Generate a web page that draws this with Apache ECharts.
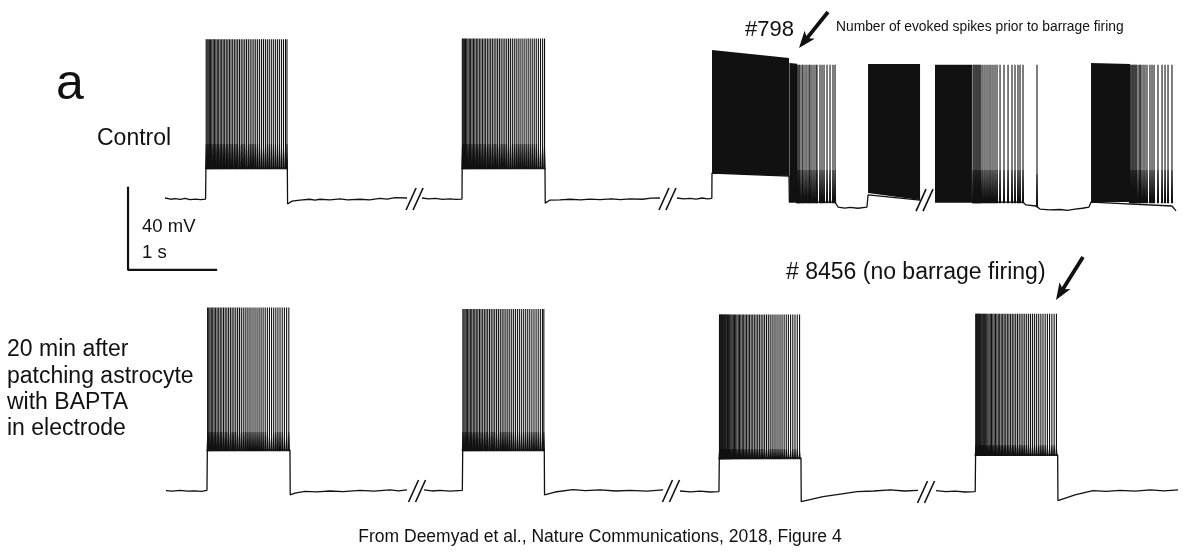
<!DOCTYPE html>
<html>
<head>
<meta charset="utf-8">
<script src="https://cdn.jsdelivr.net/npm/echarts@6/dist/echarts.min.js"></script>
<style>html,body{margin:0;padding:0;background:#fff}#c{width:1200px;height:557px}</style>
</head>
<body>
<div id="c"></div>
<script>
// ---------- DATA (time in s of displayed trace, membrane potential in mV) ----------
// Control trace: sub-threshold trace segments (between break marks)
const ctrlSegA = [[1.875,-65.0],[1.940,-65.6],[1.989,-65.3],[2.050,-65.7],[2.102,-65.2],[2.160,-65.8],[2.216,-65.5],[2.280,-65.8],[2.336,-65.5],[2.340,-50.4],[3.265,-50.4],[3.268,-67.9],[3.318,-66.5],[3.409,-66.0],[3.520,-65.6],[3.580,-66.0],[3.636,-65.6],[3.750,-65.9],[3.864,-65.4],[3.950,-65.9],[4.091,-65.6],[4.200,-65.9],[4.318,-65.2],[4.400,-65.5],[4.489,-64.8],[4.625,-65.0]];
const ctrlSegB = [[4.795,-65.0],[4.870,-65.4],[4.943,-65.2],[5.030,-65.7],[5.114,-65.4],[5.180,-65.7],[5.250,-65.5],[5.252,-50.4],[6.193,-50.4],[6.196,-67.5],[6.250,-66.0],[6.360,-65.9],[6.477,-65.6],[6.600,-65.9],[6.700,-65.5],[6.818,-65.8],[6.950,-65.4],[7.050,-65.8],[7.159,-65.4],[7.300,-65.6],[7.400,-65.1],[7.500,-65.0]];
const ctrlSegC = [[7.693,-65.0],[7.770,-65.4],[7.840,-65.2],[7.910,-65.5],[7.980,-65.0],[8.040,-65.4],[8.089,-65.2],[8.091,-52.8],[8.966,-54.3],[8.970,-67.0],[9.489,-67.0],[9.523,-69.4],[9.600,-69.9],[9.659,-69.6],[9.750,-70.0],[9.852,-69.4],[9.864,-63.5],[10.455,-66.0]];
const ctrlSegD = [[10.625,-67.0],[11.625,-67.0],[11.659,-68.4],[11.773,-68.9],[11.818,-70.4],[11.930,-70.8],[12.045,-70.6],[12.130,-71.0],[12.216,-70.4],[12.300,-70.0],[12.375,-69.4],[12.398,-67.0],[13.318,-68.9],[13.364,-71.3]];
// Control evoked bursts
const ctrlBurstOnset = [2.340, 5.252];
const ctrlBurstTrough = [-50.4, -50.4];
const ctrlBurstPeak = [12.5, 12.8];
const ctrlB1SpikesMs = [3,14,26,39,53,67,82,97,113,129,145,162,179,196,213,231,249,267,285,304,323,342,361,381,401,421,441,461,482,503,524,545,566,588,610,632,654,676,698,720,743,766,789,812,835,858,881,904,921];
const ctrlB2SpikesMs = [2,13,25,38,52,66,81,96,112,128,144,161,178,195,213,231,249,267,286,305,324,343,363,383,403,423,443,464,485,506,527,548,570,592,614,636,658,681,704,727,750,773,796,819,842,866,890,914,936];
// Control barrage: solid firing blocks [tStart, tEnd, topStart, topEnd, bottomStart, bottomEnd]
const ctrlBarrageBlocks = [
  [8.091, 8.966, 7.2, 3.3, -52.8, -54.3],
  [8.970, 9.057, 0.9, 0.5, -67.0, -67.0],
  [9.864, 10.455, 0.4, 0.4, -62.5, -66.0],
  [10.625, 11.045, 0.0, 0.0, -67.0, -67.0],
  [12.398, 12.841, 0.9, 0.4, -67.0, -67.0]
];
// Control barrage: individually visible spikes [t, trough, peak]
const ctrlBarrageSpikes = [
  [9.057,-67,0],[9.068,-67,0],[9.080,-67,0],[9.091,-67,0],[9.114,-67,0],[9.125,-67,0],[9.148,-67,0],[9.170,-67,0],[9.193,-67,0],[9.205,-67,0],[9.227,-67,0],[9.250,-67,0],[9.273,-67,0],[9.284,-67,0],[9.318,-67,0],[9.341,-67,0],[9.364,-67,0],[9.398,-67,0],[9.432,-67,0],[9.466,-67,0],[9.489,-67,0],
  [11.057,-67,0],[11.068,-67,0],[11.080,-67,0],[11.091,-67,0],[11.102,-67,0],[11.114,-67,0],[11.125,-67,0],[11.136,-67,0],[11.148,-67,0],[11.170,-67,0],[11.193,-67,0],[11.216,-67,0],[11.239,-67,0],[11.261,-67,0],[11.284,-67,0],[11.307,-67,0],[11.330,-67,0],[11.364,-67,0],[11.409,-67,0],[11.455,-67,0],[11.500,-67,0],[11.534,-67,0],[11.568,-67,0],[11.591,-67,0],[11.625,-67,0],
  [11.784,-68.9,0],
  [12.841,-67,0],[12.852,-67,0],[12.864,-67,0],[12.875,-67,0],[12.886,-67,0],[12.898,-67,0],[12.909,-67,0],[12.920,-67,0],[12.943,-67,0],[12.955,-67,0],[12.966,-67,0],[12.989,-67,0],[13.011,-67,0],[13.034,-67,0],[13.068,-67,0],[13.091,-67,0],[13.114,-67,0],[13.159,-67,0],[13.205,-67,0],[13.239,-67,0],[13.273,-67,0],[13.318,-67,0]
];
const ctrlBreaks = [[4.711,-65.5],[7.585,-65.5],[10.506,-66.0]];

// BAPTA trace
const baptaSegA = [[1.886,-65.3],[1.960,-65.6],[2.045,-65.2],[2.130,-65.6],[2.216,-65.4],[2.290,-65.7],[2.352,-65.2],[2.356,-45.5],[3.295,-45.5],[3.298,-67.4],[3.352,-66.5],[3.466,-65.7],[3.600,-65.9],[3.750,-65.5],[3.900,-65.8],[4.091,-65.2],[4.250,-65.6],[4.432,-65.0],[4.530,-65.4],[4.625,-65.0]];
const baptaSegB = [[4.818,-65.0],[4.910,-65.5],[5.000,-65.2],[5.120,-65.6],[5.254,-65.2],[5.258,-45.5],[6.185,-45.5],[6.188,-67.4],[6.307,-66.0],[6.511,-64.8],[6.650,-65.3],[6.818,-65.0],[7.000,-65.5],[7.159,-65.2],[7.350,-65.6],[7.534,-65.0]];
const baptaSegC = [[7.727,-65.5],[7.850,-65.9],[7.955,-65.6],[8.070,-66.0],[8.170,-65.8],[8.174,-49.4],[9.102,-49.4],[9.105,-70.7],[9.352,-68.3],[9.550,-67.0],[9.739,-65.8],[9.930,-65.5],[10.114,-65.0],[10.280,-65.5],[10.432,-65.2]];
const baptaSegD = [[10.636,-65.3],[10.750,-65.8],[10.852,-65.6],[10.970,-66.0],[11.082,-65.8],[11.086,-47.9],[12.019,-47.9],[12.022,-70.2],[12.216,-67.4],[12.420,-65.3],[12.570,-65.7],[12.727,-65.2],[12.900,-65.6],[13.068,-65.0],[13.230,-65.4],[13.386,-65.0]];
const baptaBurstOnset = [2.356, 5.258, 8.174, 11.086];
const baptaBurstTrough = [-45.5, -45.5, -49.4, -47.9];
const baptaBurstPeak = [24.0, 23.3, 20.6, 21.0];
const baptaB1SpikesMs = [3,16,30,45,61,77,94,111,129,147,165,184,203,222,242,262,282,302,323,344,365,386,408,430,452,474,496,519,542,565,588,611,634,658,682,706,730,754,778,802,826,851,876,901,926];
const baptaB2SpikesMs = [2,14,27,41,56,71,87,103,120,137,154,172,190,208,227,246,265,284,304,324,344,364,385,406,427,448,469,491,513,535,557,579,601,624,647,670,693,716,739,762,786,810,834,858,882,906,922];
const baptaB3SpikesMs = [2,9,16,23,30,37,44,52,60,68,76,85,94,103,113,123,134,146,159,172,186,200,215,230,245,261,277,293,310,327,344,362,380,398,417,436,455,475,495,515,536,557,578,600,622,644,667,690,713,737,761,785,810,835,860,886,912];
const baptaB4SpikesMs = [2,9,16,23,30,38,46,54,63,72,82,92,103,115,127,140,153,167,181,196,211,226,242,258,274,291,308,325,343,361,379,398,417,436,456,476,496,517,538,559,581,603,625,648,671,694,718,742,766,791,816,841,867,893,919];
const baptaBreaks = [[4.739,-65.5],[7.625,-65.5],[10.523,-66.0]];

// Scale bar: origin [t, mV], lengths
const scaleBarOrigin = [1.455, -100.1];
const scaleBarMv = 40;
const scaleBarS = 1;

// ---------- CHART ----------
const INK = '#111111';
function spikeData(onset, trough, peak, ms) { return ms.map(m => [onset + m / 1000, trough, peak]); }
function spikeRender(bandPx) {
  return function (params, api) {
    const a = api.coord([api.value(0), api.value(1)]);
    const b = api.coord([api.value(0), api.value(2)]);
    return { type: 'group', children: [
      { type: 'line', shape: { x1: a[0], y1: a[1], x2: b[0], y2: b[1] }, style: { stroke: INK, lineWidth: 1.1 } },
      { type: 'polygon', shape: { points: [[a[0] - 1.1, a[1] + 1.2], [a[0] - 0.35, a[1] - bandPx], [a[0] + 0.35, a[1] - bandPx], [a[0] + 1.1, a[1] + 1.2]] }, style: { fill: INK } }
    ] };
  };
}
function blockRender(params, api) {
  const p1 = api.coord([api.value(0), api.value(2)]);
  const p2 = api.coord([api.value(1), api.value(3)]);
  const p3 = api.coord([api.value(1), api.value(5)]);
  const p4 = api.coord([api.value(0), api.value(4)]);
  return { type: 'polygon', shape: { points: [p1, p2, p3, p4] }, style: { fill: INK } };
}
function breakRender(params, api) {
  const c = api.coord([api.value(0), api.value(1)]);
  const s = { stroke: INK, lineWidth: 1.6 };
  return { type: 'group', children: [
    { type: 'line', shape: { x1: c[0] - 8.5, y1: c[1] + 11, x2: c[0] + 1.5, y2: c[1] - 11 }, style: s },
    { type: 'line', shape: { x1: c[0] - 1.5, y1: c[1] + 11, x2: c[0] + 8.5, y2: c[1] - 11 }, style: s }
  ] };
}
function lineSeries(data, gi) {
  return { type: 'line', data: data, xAxisIndex: gi, yAxisIndex: gi, showSymbol: false, symbol: 'none',
    lineStyle: { color: INK, width: 1.3 }, animation: false, silent: true, z: 2 };
}
function customSeries(data, gi, render, z) {
  return { type: 'custom', coordinateSystem: 'cartesian2d', xAxisIndex: gi, yAxisIndex: gi, data: data,
    renderItem: render, animation: false, silent: true, z: z, clip: false };
}
function arrowPts(x1, y1, x2, y2, w, L, H) {
  const dx = x2 - x1, dy = y2 - y1, len = Math.hypot(dx, dy);
  const ux = dx / len, uy = dy / len, nx = -uy, ny = ux;
  const bx = x2 - ux * L, by = y2 - uy * L;
  const cx = x2 - ux * (L - 3), cy = y2 - uy * (L - 3);
  return [[x1 + nx * w / 2, y1 + ny * w / 2], [cx + nx * w / 2, cy + ny * w / 2], [bx + nx * H / 2, by + ny * H / 2], [x2, y2],
          [bx - nx * H / 2, by - ny * H / 2], [cx - nx * w / 2, cy - ny * w / 2], [x1 - nx * w / 2, y1 - ny * w / 2]];
}

const series = [];
[ctrlSegA, ctrlSegB, ctrlSegC, ctrlSegD].forEach(s => series.push(lineSeries(s, 0)));
[baptaSegA, baptaSegB, baptaSegC, baptaSegD].forEach(s => series.push(lineSeries(s, 1)));
series.push(customSeries(spikeData(ctrlBurstOnset[0], ctrlBurstTrough[0], ctrlBurstPeak[0], ctrlB1SpikesMs), 0, spikeRender(24), 3));
series.push(customSeries(spikeData(ctrlBurstOnset[1], ctrlBurstTrough[1], ctrlBurstPeak[1], ctrlB2SpikesMs), 0, spikeRender(24), 3));
series.push(customSeries(ctrlBarrageBlocks, 0, blockRender, 3));
series.push(customSeries(ctrlBarrageSpikes, 0, spikeRender(32), 3));
const baptaSp = [baptaB1SpikesMs, baptaB2SpikesMs, baptaB3SpikesMs, baptaB4SpikesMs];
const baptaBand = [18, 18, 9, 10];
baptaSp.forEach((ms, i) => series.push(customSeries(spikeData(baptaBurstOnset[i], baptaBurstTrough[i], baptaBurstPeak[i], ms), 1, spikeRender(baptaBand[i]), 3)));
series.push(customSeries(ctrlBreaks, 0, breakRender, 4));
series.push(customSeries(baptaBreaks, 1, breakRender, 4));
series.push({ type: 'line', xAxisIndex: 0, yAxisIndex: 0, showSymbol: false, symbol: 'none', animation: false, silent: true,
  data: [[scaleBarOrigin[0], scaleBarOrigin[1] + scaleBarMv], scaleBarOrigin, [scaleBarOrigin[0] + scaleBarS, scaleBarOrigin[1]]],
  lineStyle: { color: INK, width: 2.2, cap: 'square' }, z: 2 });

const FONT = 'Liberation Sans, Arial, sans-serif';
function txt(x, y, text, size, extra) {
  return Object.assign({ type: 'text', x: x, y: y, silent: true,
    style: Object.assign({ text: text, fontSize: size, fontFamily: FONT, fill: INK, align: 'left', verticalAlign: 'middle' }, extra || {}) });
}
const graphics = [
  txt(56, 85, 'a', 50),
  txt(97, 139, 'Control', 23),
  { type: 'text', x: 7, y: 337, silent: true, style: { text: '20 min after\npatching astrocyte\nwith BAPTA\nin electrode', fontSize: 23, lineHeight: 26.3, fontFamily: FONT, fill: INK, align: 'left', verticalAlign: 'top' } },
  txt(142, 226.5, '40 mV', 18.5),
  txt(142, 252.5, '1 s', 18.5),
  txt(745, 29.5, '#798', 22),
  txt(836, 27.5, 'Number of evoked spikes prior to barrage firing', 13.8),
  txt(786, 272.5, '# 8456 (no barrage firing)', 23),
  txt(600, 537, 'From Deemyad et al., Nature Communications, 2018, Figure 4', 17.5, { align: 'center' }),
  { type: 'polygon', silent: true, shape: { points: arrowPts(828, 12, 799, 48, 3.8, 17, 13) }, style: { fill: INK } },
  { type: 'polygon', silent: true, shape: { points: arrowPts(1083, 257, 1056, 300, 3.8, 17, 13) }, style: { fill: INK } }
];

const chart = echarts.init(document.getElementById('c'), null, { renderer: 'canvas' });
const xMax = 1200 / 88;
chart.setOption({
  animation: false,
  backgroundColor: '#ffffff',
  grid: [
    { left: 0, right: 0, top: 0, height: 280 },
    { left: 0, right: 0, top: 280, height: 277 }
  ],
  xAxis: [
    { type: 'value', gridIndex: 0, min: 0, max: xMax, show: false },
    { type: 'value', gridIndex: 1, min: 0, max: xMax, show: false }
  ],
  yAxis: [
    { type: 'value', gridIndex: 0, min: -105, max: 31.6, show: false },
    { type: 'value', gridIndex: 1, min: -97.7, max: 37.4, show: false }
  ],
  series: series,
  graphic: graphics
});
</script>
</body>
</html>
